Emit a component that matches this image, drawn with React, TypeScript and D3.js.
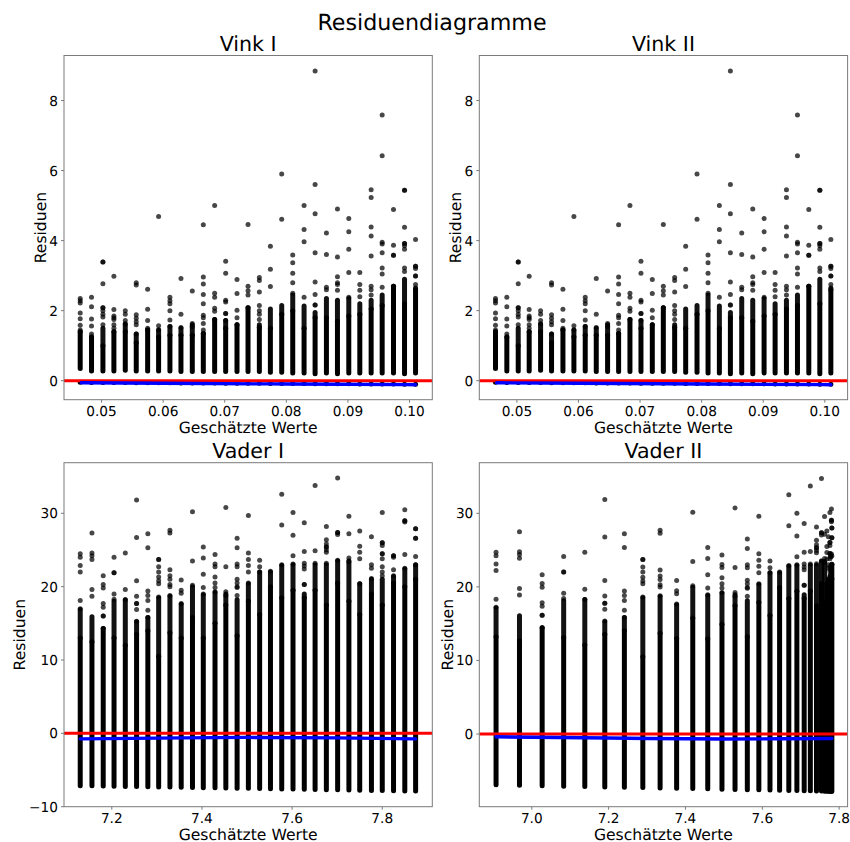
import React from "react";
import * as d3 from "d3";

const FONT = "'DejaVu Sans', sans-serif";
const W = 850, H = 842;

// fitted value of each column
const vinkFitted = [.04653,.04837,.05022,.052,.05385,.05563,.05748,.05926,.0611,.06289,.06473,.06652,.06836,.07015,.07199,.07378,.07562,.07741,.07925,.08104,.08288,.08467,.08651,.0883,.09014,.09193,.09377,.09556,.0974,.09919,.10098];
const vaderIFitted = [7.13,7.156,7.181,7.205,7.23,7.255,7.28,7.304,7.329,7.354,7.379,7.403,7.429,7.453,7.478,7.503,7.528,7.552,7.577,7.602,7.627,7.651,7.676,7.701,7.726,7.75,7.776,7.8,7.825,7.85,7.874];
const vaderIIFitted = [6.907,6.968,7.027,7.083,7.138,7.19,7.241,7.289,7.334,7.377,7.419,7.458,7.495,7.529,7.561,7.591,7.62,7.645,7.669,7.69,7.709,7.725,7.741,7.754,7.762,7.768,7.772,7.776,7.778,7.78,7.781];

// Vink: dense part of each column
const vinkBandLow = [.35,.28,.28,.28,.3,.28,.28,.28,.28,.26,.26,.26,.26,.26,.26,.26,.26,.24,.24,.22,.22,.2,.22,.2,.22,.22,.22,.22,.22,.2,.22];
const vinkBandHigh = [1.4,1.25,1.0,1.4,1.4,1.08,1.45,1.25,1.3,1.3,1.3,1.35,1.75,1.5,1.6,2.08,1.52,1.5,1.9,2.0,1.5,1.8,1.8,1.7,1.85,1.9,2.05,2.15,2.7,2.2,2.6];
const vinkBandTop = [1.4,1.25,1.5,1.4,1.62,1.33,1.45,1.45,1.55,1.5,1.6,1.35,1.75,1.72,1.6,2.08,1.6,2.05,2.15,2.45,2.13,1.95,2.35,2.3,2.35,2.2,2.3,2.45,2.7,2.9,2.65];
// Vink: separate points of each column
const vinkSparse = [
  [2.35,2.28,2.22,1.93,1.77,1.58,1.45],
  [2.38,2.11,1.76,1.56,1.33],
  [3.39,3.39,2.77,2.08,2.08,2.0,1.9,1.82,1.6],
  [2.98,2.03,1.85,1.8,1.75,1.6,1.5],
  [2.0,1.9,1.72,1.62],
  [2.8,2.73,1.88,1.78,1.68,1.6,1.33],
  [2.61,2.04,1.72,1.5],
  [4.69,1.57,1.45],
  [2.38,2.28,2.2,2.0,1.73,1.55],
  [2.92,1.9,1.52],
  [2.56,1.63,1.55],
  [4.45,2.96,2.76,2.46,2.2,1.87,1.8,1.63,1.45],
  [5.0,2.5,2.38,2.07,1.98],
  [3.41,3.07,2.3,2.25,1.92,1.92,1.72],
  [2.89,2.49,2.01,1.8],
  [4.46,2.7,2.57,2.45],
  [2.95,2.86,2.53,2.15,2.0,1.9,1.75],
  [3.84,3.18,2.69],
  [5.9,4.61],
  [3.59,3.37,3.07,2.8,2.5],
  [5.0,4.32,3.97,2.38],
  [8.84,5.6,4.77,3.65,2.82,2.46,2.16,2.16],
  [4.22,3.6,2.67,2.6],
  [4.9,3.53,2.97,2.8,2.75,2.58],
  [4.63,4.25,3.75,3.09,2.38],
  [3.09,2.75,2.58,2.4],
  [5.45,5.23,4.39,4.13,3.56,2.7,2.6,2.45],
  [7.59,6.42,3.95,3.9,3.65,3.22,3.05,2.67],
  [4.89,3.87,3.58,3.58],
  [5.44,5.44,4.38,3.92,3.92,3.85,3.75,3.22,3.12],
  [4.03,3.27,3.27,3.2,2.99,2.99,2.75],
];

// Vader: dense part of each column (the lower end is the lowest residual)
const vaderBandLow = [-7.13,-7.16,-7.18,-7.21,-7.23,-7.26,-7.28,-7.3,-7.33,-7.35,-7.38,-7.4,-7.43,-7.45,-7.48,-7.5,-7.53,-7.55,-7.58,-7.6,-7.63,-7.65,-7.68,-7.7,-7.73,-7.75,-7.78,-7.8,-7.83,-7.85,-7.87];
const vaderBandHigh = [13,12.5,14.3,13,12,13.5,14,10.5,13.7,13,15.8,13,15,17.5,13.3,18,16.2,20,18.5,19.5,18.5,19.5,17.5,20.5,18,16.2,19,17.5,20.5,20,21];
const vaderBandTop = [16.9,15.9,14.3,18,18.2,15.2,15.8,18.5,18.7,17.6,20,18.9,19.2,19,18.2,20.4,22,22,22.9,23,19,23,23,23.5,23.5,20.4,21,21,21.4,22.4,22.9];
// Vader: separate points of each column
const vaderSparse = [
  [24.5,24,22.9,22,18.1,17],
  [27.3,24.6,24.2,23.7,19.6,18.7],
  [21.5,20.3,19.8,17.7,17.2,16,16],
  [24,21.9,21.9,19,18.3],
  [24.6,19.6,18.2],
  [31.8,26.7,20.8,18.7,17.7,17.7,16.9,15.3],
  [27.2,25.3,19.4,18.8,18.1,16.8,15.8],
  [23.7,23.7,22.7,22,21.3,20.8,20.4,18.6],
  [27.7,27.3,22.3,21.5,21,20.3,20,18.8],
  [20.9,19.5,19.1,17.7],
  [30.2,23.5,20.2],
  [25.4,23.9,21.7,19.9,19],
  [24.4,23.1,22.7,21.3,20.5,19.9,19.3],
  [30.8,22.7,19.3,18.8],
  [26.6,25.3,23.1,22.7,21,20.5,20,19.9,18.8],
  [29.7,24.6,23.7,22.9,22,20.5],
  [23.6,22.7,22],
  [22.1],
  [32.6,28.4,23],
  [30.1,27,24.2,23.1],
  [28.7,24.8,23.2,22.8,22.4,20.3,20.3],
  [33.8,24.9,23.2],
  [28.2,26.4,25.8,25.4,25.4,25,24.7,23.2],
  [34.8,27.4,27.4,27.1,23.6],
  [29.6,27.2,23.9,23.4],
  [27.6,25.5,24.7,23.8,20.4],
  [26.8,23,22.5,21.1],
  [30.1,26,26,25.6,24.5,24.5,23.8,22.7,22,21.5],
  [24.2,24.2,24,22.3,21.5],
  [30.5,29,29,28.8,24.4,22.5],
  [27.9,27.9,26.6,26.6,24.1,23,23],
];

// trend curves
const vinkTrendX = [.0467,.06,.08,.101];
const vinkTrendY = [-.06,-.075,-.095,-.115];
const vaderITrendX = [7.13,7.3,7.5,7.7,7.874];
const vaderITrendY = [-.75,-.65,-.55,-.62,-.75];
const vaderIITrendX = [6.907,7.2,7.5,7.65,7.781];
const vaderIITrendY = [-.38,-.55,-.68,-.65,-.6];

const vinkXTicks = [.05,.06,.07,.08,.09,.10];
const vinkYTicks = [0,2,4,6,8];
const vaderIXTicks = [7.2,7.4,7.6,7.8];
const vaderIIXTicks = [7.0,7.2,7.4,7.6,7.8];
const vaderYTicks = [-10,0,10,20,30];
const vaderIIYTicks = [0,10,20,30];

type Col = { x: number; lo: number; hi: number; top: number; pts: number[]; extra?: number };

const vinkCols: Col[] = vinkFitted.map((x, i) => ({ x, lo: vinkBandLow[i], hi: vinkBandHigh[i], top: vinkBandTop[i], pts: vinkSparse[i], extra: -x }));
const vaderICols: Col[] = vaderIFitted.map((x, i) => ({ x, lo: vaderBandLow[i], hi: vaderBandHigh[i], top: vaderBandTop[i], pts: vaderSparse[i] }));
// same observations as Vader I, residual = observed - fitted
const vaderIICols: Col[] = vaderIIFitted.map((x, i) => {
  const d = vaderIFitted[i] - x;
  return { x, lo: vaderBandLow[i] + d, hi: vaderBandHigh[i] + d, top: vaderBandTop[i] + d, pts: vaderSparse[i].map(v => v + d) };
});

const DOT = 2.5;

function Panel(p: {
  title: string; left: number; right: number; top: number; bottom: number;
  xDomain: [number, number]; yDomain: [number, number];
  xTicks: number[]; yTicks: number[]; xDec: number; cols: Col[];
  trendX: number[]; trendY: number[]; ylabelX: number;
}) {
  const x = d3.scaleLinear().domain(p.xDomain).range([p.left, p.right]);
  const y = d3.scaleLinear().domain(p.yDomain).range([p.bottom, p.top]);
  const trend = d3.line<number>().x((_, i) => x(p.trendX[i])).y(d => y(d)).curve(d3.curveMonotoneX)(p.trendY) || "";
  const cx = (p.left + p.right) / 2, cy = (p.top + p.bottom) / 2;
  const clip = "clip" + p.title.replace(/\s/g, "");
  return (
    <g>
      <defs><clipPath id={clip}><rect x={p.left} y={p.top} width={p.right - p.left} height={p.bottom - p.top} /></clipPath></defs>
      <text x={cx} y={p.top - 5} fontSize={20.6} textAnchor="middle" fill="#000">{p.title}</text>
      <g clipPath={`url(#${clip})`}>
        {p.cols.map((c, i) => (
          <g key={i}>
            <line x1={x(c.x)} x2={x(c.x)} y1={y(c.lo)} y2={y(c.hi)} stroke="#000" strokeWidth={DOT * 2} strokeLinecap="round" />
            <line x1={x(c.x)} x2={x(c.x)} y1={y(c.hi)} y2={y(c.top)} stroke="#000" strokeOpacity={0.93} strokeWidth={DOT * 2} strokeLinecap="round" />
            {c.pts.map((v, j) => <circle key={j} cx={x(c.x)} cy={y(v)} r={DOT} fill="#000" fillOpacity={0.72} />)}
            {c.extra !== undefined && <circle cx={x(c.x)} cy={y(c.extra)} r={DOT} fill="#000" />}
          </g>
        ))}
        <line x1={p.left} x2={p.right} y1={y(0)} y2={y(0)} stroke="#ff0000" strokeWidth={3} />
        <path d={trend} fill="none" stroke="#0000ff" strokeWidth={3.4} strokeLinecap="round" />
      </g>
      <rect x={p.left} y={p.top} width={p.right - p.left} height={p.bottom - p.top} fill="none" stroke="#7a7a7a" strokeWidth={1} />
      {p.xTicks.map(t => (
        <g key={t}>
          <line x1={x(t)} x2={x(t)} y1={p.bottom} y2={p.bottom + 3} stroke="#7a7a7a" />
          <text x={x(t)} y={p.bottom + 16} fontSize={13.7} textAnchor="middle" fill="#000">{t.toFixed(p.xDec)}</text>
        </g>
      ))}
      {p.yTicks.map(t => (
        <g key={t}>
          <line x1={p.left - 3} x2={p.left} y1={y(t)} y2={y(t)} stroke="#7a7a7a" />
          <text x={p.left - 6} y={y(t) + 5} fontSize={13.7} textAnchor="end" fill="#000">{t < 0 ? "\u2212" + Math.abs(t) : t}</text>
        </g>
      ))}
      <text x={cx} y={p.bottom + 33} fontSize={15.6} textAnchor="middle" fill="#000">Geschätzte Werte</text>
      <text transform={`translate(${p.ylabelX},${cy}) rotate(-90)`} fontSize={15.6} textAnchor="middle" fill="#000">Residuen</text>
    </g>
  );
}

export default function App() {
  return (
    <svg width={W} height={H} style={{ position: "absolute", left: 0, top: 0 }} fontFamily={FONT} textRendering="geometricPrecision">
      <rect width={W} height={H} fill="#fff" />
      <text x={432} y={30} fontSize={22.2} textAnchor="middle" fill="#000">Residuendiagramme</text>
      <Panel title="Vink I" left={64} right={432.3} top={55.5} bottom={399.7} xDomain={[.0439,.1037]} yDomain={[-.543,9.286]}
        xTicks={vinkXTicks} yTicks={vinkYTicks} xDec={2} cols={vinkCols} trendX={vinkTrendX} trendY={vinkTrendY} ylabelX={46} />
      <Panel title="Vink II" left={479.3} right={847.6} top={55.5} bottom={399.7} xDomain={[.0439,.1037]} yDomain={[-.543,9.286]}
        xTicks={vinkXTicks} yTicks={vinkYTicks} xDec={2} cols={vinkCols} trendX={vinkTrendX} trendY={vinkTrendY} ylabelX={461} />
      <Panel title="Vader I" left={64} right={432.3} top={462.7} bottom={806.7} xDomain={[7.094,7.911]} yDomain={[-10,36.9]}
        xTicks={vaderIXTicks} yTicks={vaderYTicks} xDec={1} cols={vaderICols} trendX={vaderITrendX} trendY={vaderITrendY} ylabelX={25} />
      <Panel title="Vader II" left={479.3} right={847.6} top={462.7} bottom={806.7} xDomain={[6.8634,7.822]} yDomain={[-9.88,36.88]}
        xTicks={vaderIIXTicks} yTicks={vaderIIYTicks} xDec={1} cols={vaderIICols} trendX={vaderIITrendX} trendY={vaderIITrendY} ylabelX={453} />
    </svg>
  );
}
